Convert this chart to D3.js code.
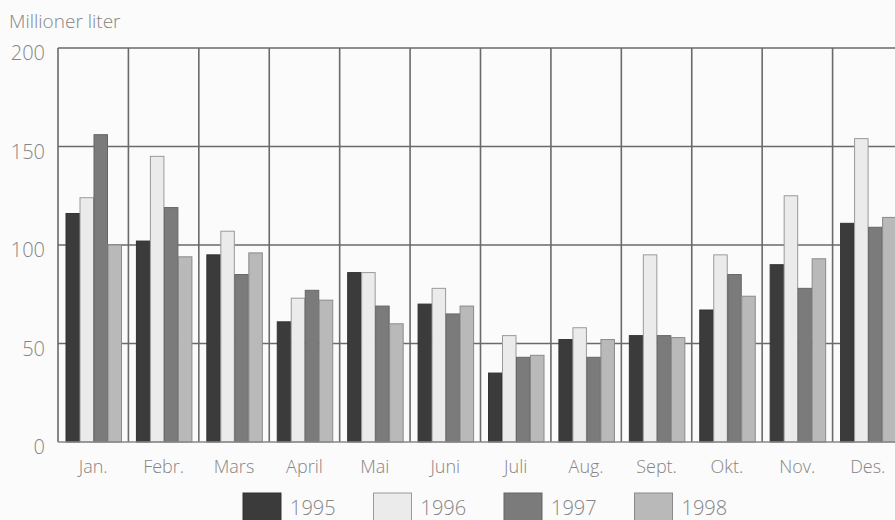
<!DOCTYPE html>
<html><head><meta charset="utf-8">
<script src="https://cdn.jsdelivr.net/npm/d3@7"></script>
<style>body{margin:0;background:#fbfbfb;}svg{display:block;}text{font-family:"Open Sans",Lato,sans-serif;font-weight:300;fill:#858585;}</style>
</head><body><svg id="c" width="895" height="520"></svg>
<script>
const months = ["Jan.","Febr.","Mars","April","Mai","Juni","Juli","Aug.","Sept.","Okt.","Nov.","Des."];
const years = ["1995","1996","1997","1998"];
const v1995 = [116,102,95,61,86,70,35,52,54,67,90,111];
const v1996 = [124,145,107,73,86,78,54,58,95,95,125,154];
const v1997 = [156,119,85,77,69,65,43,43,54,85,78,109];
const v1998 = [100,94,96,72,60,69,44,52,53,74,93,114];
const yTicks = [0,50,100,150,200];
const series = [v1995,v1996,v1997,v1998];
const fills = ["#3b3b3b","#ebebeb","#7b7b7b","#b9b9b9"];
const strokes = ["#333","#9a9a9a","#666","#8a8a8a"];

const svg = d3.select("#c");
const L=58, R=903, T=48, B=442;
const x = d3.scaleBand().domain(months).range([L,R]);
const y = d3.scaleLinear().domain([0,200]).range([B,T]);
const xi = d3.scaleBand().domain(years).range([8,64]).padding(0);

// grid
svg.append("g").selectAll("line").data(yTicks.filter(d=>d>0)).join("line")
  .attr("x1",L).attr("x2",R).attr("y1",d=>y(d)).attr("y2",d=>y(d))
  .attr("stroke","#6a6a6a").attr("stroke-width",1.6);
svg.append("g").selectAll("line").data(months).join("line")
  .attr("x1",d=>x(d)).attr("x2",d=>x(d)).attr("y1",T).attr("y2",B)
  .attr("stroke","#6a6a6a").attr("stroke-width",1.6);

// bars
series.forEach((s,i)=>{
  svg.append("g").selectAll("rect").data(s).join("rect")
    .attr("x",(d,j)=>x(months[j])+xi(years[i]))
    .attr("width",xi.bandwidth()-0.5)
    .attr("y",d=>y(d)).attr("height",d=>B-y(d))
    .attr("fill",fills[i]).attr("stroke",strokes[i]).attr("stroke-width",1);
});

// baseline
svg.append("line").attr("x1",L).attr("x2",R).attr("y1",B).attr("y2",B).attr("stroke","#888").attr("stroke-width",1.5);

// y labels
svg.append("g").selectAll("text").data(yTicks).join("text")
  .attr("x",45).attr("y",d=>y(d)+12).attr("text-anchor","end").attr("font-size",20).text(d=>d);
svg.append("text").attr("x",9).attr("y",28).attr("font-size",19).text("Millioner liter");

// x labels
svg.append("g").selectAll("text").data(months).join("text")
  .attr("x",d=>x(d)+x.bandwidth()/2).attr("y",473).attr("text-anchor","middle").attr("font-size",18).text(d=>d);

// legend
const lg = svg.append("g").selectAll("g").data(years).join("g")
  .attr("transform",(d,i)=>`translate(${243+i*130.5},493)`);
lg.append("rect").attr("width",38).attr("height",28).attr("fill",(d,i)=>fills[i]).attr("stroke",(d,i)=>strokes[i]);
lg.append("text").attr("x",47).attr("y",22).attr("font-size",20).text(d=>d);
</script></body></html>
